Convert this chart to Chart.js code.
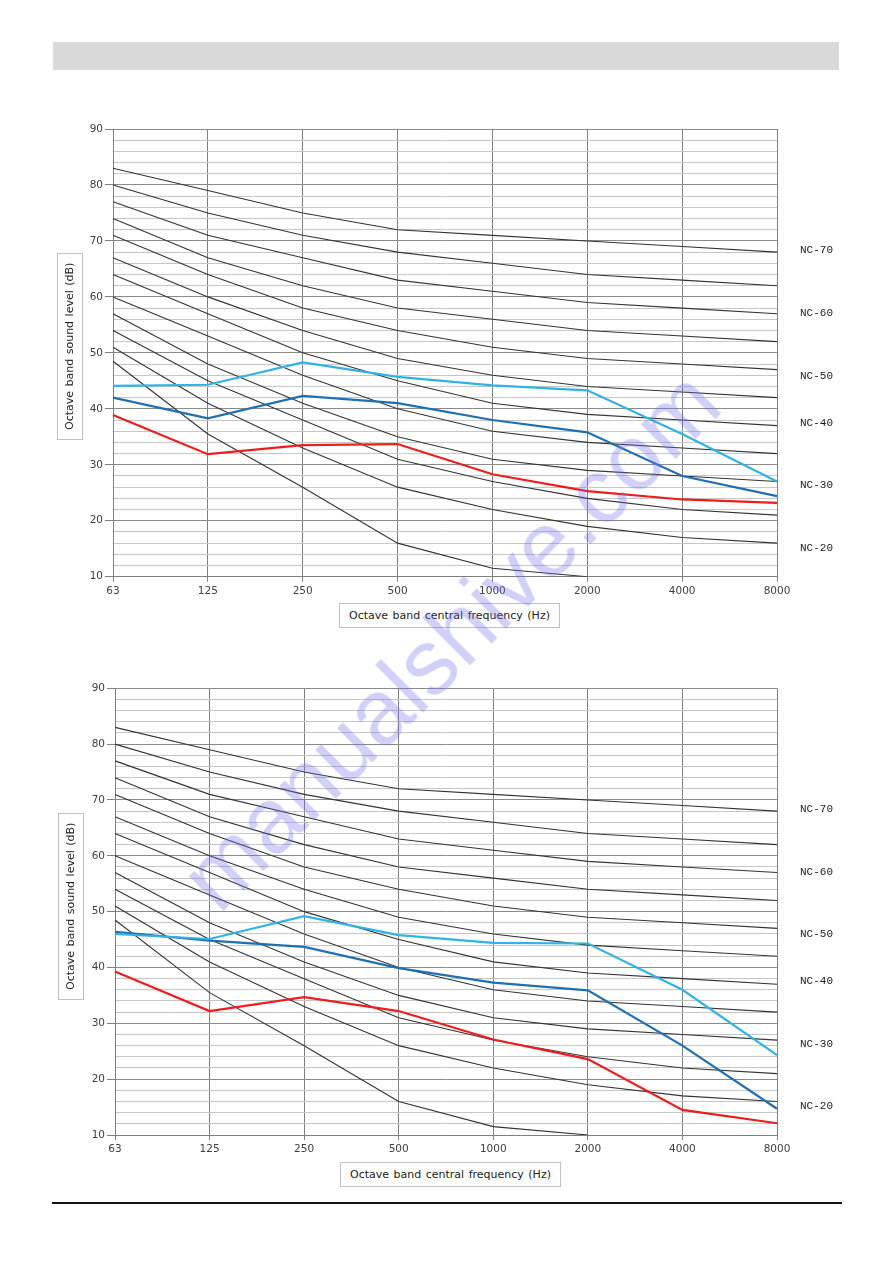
<!DOCTYPE html>
<html>
<head>
<meta charset="utf-8">
<script src="https://cdn.jsdelivr.net/npm/chart.js@4/dist/chart.umd.min.js"></script>
<style>
  body { margin: 0; background: #fff; width: 893px; height: 1263px; position: relative; overflow: hidden; font-family: "DejaVu Sans", sans-serif; }
  .bar { position: absolute; left: 53px; top: 42px; width: 786px; height: 28px; background: #d9d9d9; }
  .rule { position: absolute; left: 52px; top: 1202px; width: 790px; height: 2px; background: #111; }
  canvas { position: absolute; left: 0; }
  .ytitle { position: absolute; width: 24px; border: 1px solid #c0c0c0; background: #fff; font-size: 11px; color: #222;
            writing-mode: vertical-rl; transform: rotate(180deg); text-align: center; line-height: 24px; word-spacing: 1px; }
  .xtitle { position: absolute; width: 219px; height: 23px; border: 1px solid #c0c0c0; background: #fff; font-size: 11px; color: #222;
            text-align: center; line-height: 23px; word-spacing: 1px; }
  .mark { position: absolute; left: 450px; top: 640px; transform: translate(-50%, -50%) rotate(-45deg);
          font-family: "Liberation Sans", Arial, sans-serif; font-size: 92px; color: rgba(110, 110, 235, 0.32);
          white-space: nowrap; pointer-events: none; }
</style>
</head>
<body>
<div class="bar"></div>

<canvas id="chart1" width="893" height="560" style="top:100px"></canvas>
<div class="ytitle" style="left:57px; top:253px; height:185px">Octave band sound level (dB)</div>
<div class="xtitle" style="left:339px; top:603px">Octave band central frequency (Hz)</div>

<canvas id="chart2" width="893" height="560" style="top:660px"></canvas>
<div class="ytitle" style="left:58px; top:813px; height:185px">Octave band sound level (dB)</div>
<div class="xtitle" style="left:340px; top:1162px">Octave band central frequency (Hz)</div>

<div class="rule"></div>
<div class="mark">manualshive.com</div>

<script>
// octave bands (Hz)
const bands = ["63", "125", "250", "500", "1000", "2000", "4000", "8000"];

// NC reference curves (dB)
const nc70 = [83, 79, 75, 72, 71, 70, 69, 68];
const nc65 = [80, 75, 71, 68, 66, 64, 63, 62];
const nc60 = [77, 71, 67, 63, 61, 59, 58, 57];
const nc55 = [74, 67, 62, 58, 56, 54, 53, 52];
const nc50 = [71, 64, 58, 54, 51, 49, 48, 47];
const nc45 = [67, 60, 54, 49, 46, 44, 43, 42];
const nc40 = [64, 57, 50, 45, 41, 39, 38, 37];
const nc35 = [60, 53, 46, 40, 36, 34, 33, 32];
const nc30 = [57, 48, 41, 35, 31, 29, 28, 27];
const nc25 = [54, 45, 38, 31, 27, 24, 22, 21];
const nc20 = [51, 41, 33, 26, 22, 19, 17, 16];
const nc15 = [48.5, 35.5, 26, 16, 11.5, 10, null, null];
const ncCurves = [nc70, nc65, nc60, nc55, nc50, nc45, nc40, nc35, nc30, nc25, nc20, nc15];

// labels on the right and the level they sit at
const ncLabels = ["NC-70", "NC-60", "NC-50", "NC-40", "NC-30", "NC-20"];
const ncLabelLevels = [68.3, 57.1, 45.9, 37.5, 26.3, 15.2];

// measured spectra, upper chart
const top_light = [44.1, 44.3, 48.3, 45.7, 44.2, 43.3, 35.5, 27.0];
const top_dark = [42.0, 38.3, 42.3, 41.0, 38.0, 35.8, 28.0, 24.4];
const top_red = [38.9, 31.9, 33.5, 33.7, 28.3, 25.3, 23.8, 23.2];

// measured spectra, lower chart
const bot_light = [46.0, 45.1, 49.2, 45.8, 44.4, 44.3, 36.0, 24.3];
const bot_dark = [46.4, 44.8, 43.7, 39.9, 37.3, 35.9, 26.0, 14.7];
const bot_red = [39.3, 32.2, 34.7, 32.2, 27.1, 23.6, 14.5, 12.1];

const ncLabelPlugin = {
    id: "ncLabels",
    afterDraw(chart) {
        const { ctx, chartArea, scales } = chart;
        ctx.save();
        ctx.font = '11px "Liberation Mono", monospace';
        ctx.fillStyle = "#1a1a1a";
        ctx.textBaseline = "middle";
        ncLabels.forEach((t, i) => {
            ctx.fillText(t, chartArea.right + 23, scales.y.getPixelForValue(ncLabelLevels[i]));
        });
        ctx.restore();
    },
};

function makeChart(id, light, dark, red, pad) {
    let datasets = [
        { data: light, borderColor: "#2fb3e6", borderWidth: 2.2, order: 0 },
        { data: dark, borderColor: "#1f6fb5", borderWidth: 2.2, order: 0 },
        { data: red, borderColor: "#f01c1c", borderWidth: 2.2, order: 0 },
    ];
    ncCurves.forEach((c) => {
        datasets.push({ data: c, borderColor: "#333333", borderWidth: 1.1, order: 1 });
    });

    const tickFont = { family: "DejaVu Sans", size: 10.5 };

    new Chart(document.getElementById(id), {
        type: "line",
        data: { labels: bands, datasets: datasets },
        options: {
            responsive: false,
            devicePixelRatio: 1,
            animation: false,
            layout: { padding: pad },
            elements: { point: { radius: 0 }, line: { tension: 0 } },
            plugins: { legend: { display: false }, tooltip: { enabled: false } },
            scales: {
                x: {
                    offset: false,
                    grid: { color: "#7f7f7f", tickLength: 5, lineWidth: 1 },
                    border: { color: "#7f7f7f" },
                    ticks: { color: "#404040", font: tickFont, padding: 3, maxRotation: 0, autoSkip: false },
                    afterFit: (s) => { s.height = 30; },
                },
                y: {
                    min: 10,
                    max: 90,
                    grid: {
                        color: (c) => (c.tick && c.tick.value % 10 === 0 ? "#8a8a8a" : "#c6c6c6"),
                        tickColor: (c) => (c.tick && c.tick.value % 10 === 0 ? "#7f7f7f" : "rgba(0,0,0,0)"),
                        tickLength: 8,
                    },
                    border: { color: "#7f7f7f" },
                    ticks: {
                        stepSize: 2,
                        maxTicksLimit: 100,
                        autoSkip: false,
                        color: "#404040",
                        font: tickFont,
                        padding: 2,
                        callback: (v) => (v % 10 === 0 ? v : ""),
                    },
                    afterFit: (s) => { s.width = 40; },
                },
            },
        },
        plugins: [ncLabelPlugin],
    });
}

makeChart("chart1", top_light, top_dark, top_red, { left: 73, right: 116, top: 29, bottom: 53.3 });
makeChart("chart2", bot_light, bot_dark, bot_red, { left: 75, right: 116, top: 28.3, bottom: 55 });
</script>
</body>
</html>
